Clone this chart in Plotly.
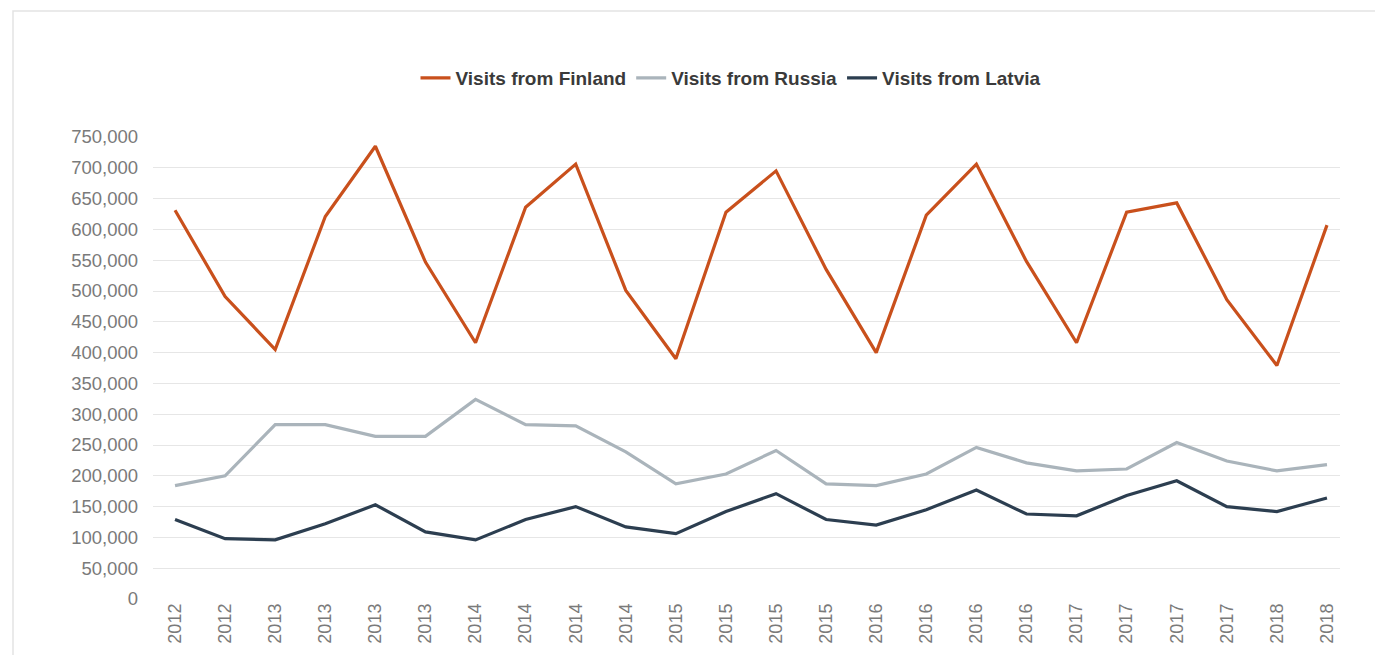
import plotly.graph_objects as go

labels = ["2012", "2012", "2013", "2013", "2013", "2013", "2014", "2014", "2014", "2014",
          "2015", "2015", "2015", "2015", "2016", "2016", "2016", "2016", "2017", "2017",
          "2017", "2017", "2018", "2018"]
finland = [631000, 491000, 405000, 621000, 735000, 547000, 416000, 636000, 706000, 501000,
           390000, 628000, 695000, 535000, 400000, 623000, 706000, 548000, 416000, 628000,
           643000, 486000, 379000, 607000]
russia = [184000, 200000, 283000, 283000, 264000, 264000, 324000, 283000, 281000, 239000,
          187000, 203000, 241000, 187000, 184000, 203000, 246000, 221000, 208000, 211000,
          254000, 224000, 208000, 218000]
latvia = [129000, 98000, 96000, 122000, 153000, 109000, 96000, 129000, 150000, 117000,
          106000, 142000, 171000, 129000, 120000, 145000, 177000, 138000, 135000, 168000,
          192000, 150000, 142000, 164000]
series_names = ["Visits from Finland", "Visits from Russia", "Visits from Latvia"]
colors = ["#c9501c", "#aab4bb", "#2c3e50"]
y_ticks = list(range(0, 750001, 50000))

W, H = 1383, 655
ML, MR, MT, MB = 145, 51, 129, 64
PW, PH = W - ML - MR, H - MT - MB

idx = list(range(len(labels)))
fig = go.Figure()
for name, vals, col in zip(series_names, [finland, russia, latvia], colors):
    fig.add_trace(go.Scatter(x=idx, y=vals, mode="lines", name=name,
                             line=dict(color=col, width=3.2)))

fig.update_layout(
    width=W, height=H,
    margin=dict(l=ML, r=MR, t=MT, b=MB, autoexpand=False),
    paper_bgcolor="white", plot_bgcolor="white",
    font=dict(family="Liberation Sans, Arial, sans-serif", color="#666666", size=18),
    showlegend=True,
    legend=dict(orientation="h", x=(731 - 8 - ML) / PW, xanchor="center",
                y=1 + (MT - 70) / PH, yanchor="middle",
                font=dict(size=19, color="#3a3a3a", family="Liberation Sans, Arial, sans-serif", weight="bold"),
                itemwidth=30, tracegroupgap=0),
    xaxis=dict(range=[-0.44, 23.26], tickmode="array", tickvals=idx, ticktext=labels,
               tickangle=-90, showgrid=False, zeroline=False, showline=False, ticks="",
               tickfont=dict(size=18, color="#7a7a7a")),
    yaxis=dict(range=[0, 750000], tickmode="array", tickvals=y_ticks,
               ticktext=[f"{v:,}" for v in y_ticks],
               showgrid=True, gridcolor="#e6e6e6", gridwidth=1, zeroline=False,
               showline=False, ticks="", ticklabelstandoff=14,
               tickfont=dict(size=18.5, color="#7a7a7a")),
)

# card border around the chart
fig.add_shape(type="rect", xref="paper", yref="paper",
              x0=(5 - ML) / PW, x1=1.2,
              y0=-0.5, y1=(H - 3 - MB) / PH,
              line=dict(color="#e3e3e3", width=1.5), fillcolor="rgba(0,0,0,0)", layer="below")

fig.write_html("out.html")
